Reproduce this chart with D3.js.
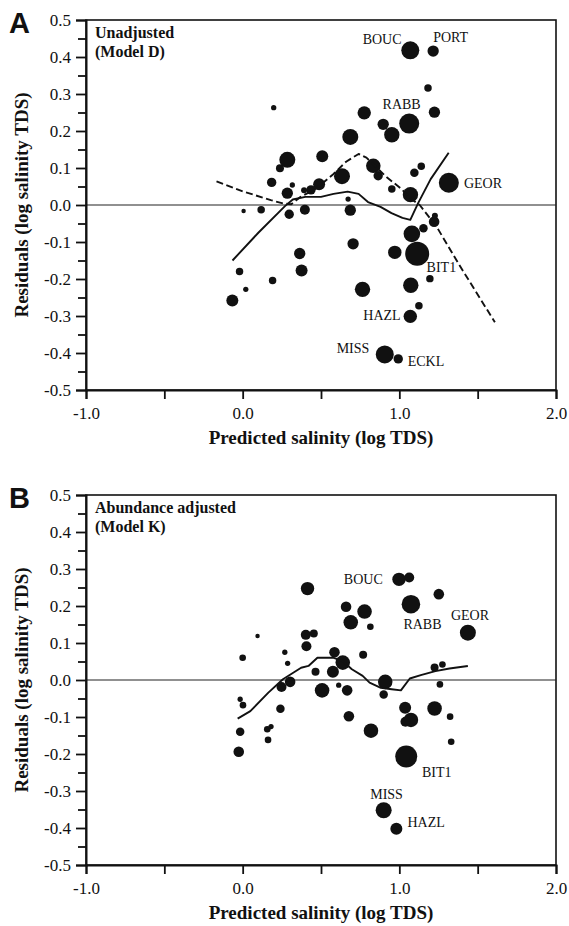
<!DOCTYPE html>
<html><head><meta charset="utf-8">
<script src="https://cdn.jsdelivr.net/npm/d3@7/dist/d3.min.js"></script>
<style>html,body{margin:0;padding:0;background:#fff;}svg{display:block;}</style>
</head><body>
<svg id="chart" width="569" height="926"></svg>
<script>
// ---------- data ----------
const xTicks = [-1, -0.5, 0, 0.5, 1, 1.5, 2];
const xTickLabels = {"-1": "-1.0", "0": "0.0", "1": "1.0", "2": "2.0"};
const yTicks = [0.5, 0.4, 0.3, 0.2, 0.1, 0, -0.1, -0.2, -0.3, -0.4, -0.5];
const yTickLabels = ["0.5", "0.4", "0.3", "0.2", "0.1", "0.0", "-0.1", "-0.2", "-0.3", "-0.4", "-0.5"];
const yMinorTicks = [0.45, 0.35, 0.25, 0.15, 0.05, -0.05, -0.15, -0.25, -0.35, -0.45];

// Panel A: unadjusted (Model D)
const predA = [1.07, 1.216, 1.183, 0.198, 0.776, 1.224, 1.063, 0.897, 0.952, 0.687,
  0.285, 0.508, 0.238, 0.834, 0.865, 0.634, 1.140, 1.096, 1.316, 0.185,
  0.317, 0.488, 0.436, 0.392, 0.285, 0.952, 1.071, 0.673, 0.006, 0.118,
  0.297, 0.397, 0.687, 0.705, 0.364, 0.376, -0.020, 0.191, 0.020, -0.066,
  0.765, 0.971, 1.114, 1.080, 1.154, 1.222, 1.227, 1.195, 1.073, 1.125,
  1.070, 0.907, 0.993];
const residA = [0.418, 0.416, 0.316, 0.263, 0.249, 0.251, 0.220, 0.218, 0.190, 0.184,
  0.122, 0.132, 0.099, 0.106, 0.079, 0.078, 0.105, 0.087, 0.060, 0.061,
  0.054, 0.056, 0.041, 0.040, 0.032, 0.043, 0.028, 0.016, -0.016, -0.013,
  -0.025, -0.013, -0.014, -0.105, -0.131, -0.177, -0.180, -0.204, -0.228, -0.258,
  -0.228, -0.128, -0.132, -0.078, -0.063, -0.045, -0.029, -0.199, -0.217, -0.272,
  -0.301, -0.404, -0.416];
const weightA = [81, 32, 14, 7, 45, 32, 100, 32, 59, 64,
  64, 36, 16, 53, 22, 64, 14, 18, 100, 22,
  7, 36, 22, 9, 32, 14, 59, 7, 5, 14,
  22, 25, 32, 32, 32, 36, 14, 14, 7, 36,
  59, 45, 144, 69, 18, 28, 9, 14, 59, 14,
  45, 81, 22];
const smoothA_x = [-0.065, 0.10, 0.27, 0.32, 0.40, 0.50, 0.58, 0.67, 0.74, 0.80, 0.88, 0.95, 1.02, 1.07, 1.12, 1.20, 1.315];
const smoothA_y = [-0.150, -0.075, -0.003, 0.015, 0.022, 0.022, 0.030, 0.036, 0.030, 0.008, -0.005, -0.022, -0.035, -0.040, 0.005, 0.070, 0.141];
const dashA_x = [-0.167, 0.0, 0.18, 0.26, 0.31, 0.37, 0.47, 0.58, 0.66, 0.74, 0.79, 0.86, 0.92, 1.0, 1.09, 1.13, 1.24, 1.39, 1.61];
const dashA_y = [0.064, 0.037, 0.013, 0.004, 0.002, 0.022, 0.045, 0.084, 0.117, 0.138, 0.128, 0.099, 0.075, 0.048, 0.012, 0.0, -0.060, -0.167, -0.317];
const labelA_text = ["BOUC", "PORT", "RABB", "GEOR", "BIT1", "HAZL", "MISS", "ECKL"];
const labelA_x = [0.766, 1.216, 0.893, 1.412, 1.174, 0.770, 0.600, 1.053];
const labelA_y = [0.435, 0.441, 0.259, 0.047, -0.180, -0.311, -0.400, -0.435];

// Panel B: abundance adjusted (Model K)
const predB = [0.998, 1.063, 0.414, 1.252, 1.074, 0.660, 0.778, 0.690, 0.815, 1.4375,
  0.095, 0.403, 0.454, 0.407, 0.269, 0.586, 0.769, 0.0, 0.287, 0.639,
  0.576, 0.465, 1.225, 1.275, 0.303, 0.248, 0.507, 0.613, 0.667, 0.910,
  0.900, 1.259, -0.016, 0.002, 0.241, 0.678, 1.037, 1.225, 1.074, 1.039,
  1.324, 0.819, -0.016, 0.157, 0.181, 0.162, -0.025, 1.331, 1.044, 0.900,
  0.981];
const residB = [0.272, 0.277, 0.247, 0.232, 0.205, 0.198, 0.185, 0.156, 0.144, 0.128,
  0.119, 0.122, 0.126, 0.091, 0.075, 0.075, 0.068, 0.060, 0.045, 0.047,
  0.022, 0.022, 0.034, 0.042, -0.005, -0.019, -0.028, -0.014, -0.028, -0.005,
  -0.039, -0.012, -0.052, -0.068, -0.078, -0.098, -0.075, -0.077, -0.108, -0.113,
  -0.099, -0.137, -0.140, -0.133, -0.126, -0.162, -0.194, -0.167, -0.207, -0.352,
  -0.402];
const weightB = [45, 25, 45, 28, 86, 28, 53, 53, 11, 64,
  5, 25, 16, 25, 7, 28, 16, 11, 7, 53,
  36, 16, 16, 11, 28, 25, 53, 7, 28, 53,
  18, 11, 7, 11, 18, 28, 36, 53, 53, 25,
  11, 53, 18, 11, 7, 11, 28, 11, 121, 64,
  36];
const smoothB_x = [-0.032, 0.049, 0.164, 0.257, 0.373, 0.42, 0.477, 0.581, 0.639, 0.697, 0.766, 0.81, 0.882, 0.951, 1.01, 1.067, 1.137, 1.23, 1.32, 1.4375];
const smoothB_y = [-0.1045, -0.084, -0.034, 0.002, 0.033, 0.038, 0.060, 0.060, 0.051, 0.029, 0.011, -0.007, -0.021, -0.025, -0.028, 0.004, 0.013, 0.024, 0.031, 0.038];
const labelB_text = ["BOUC", "RABB", "GEOR", "BIT1", "MISS", "HAZL"];
const labelB_x = [0.646, 1.026, 1.329, 1.144, 0.814, 1.052];
const labelB_y = [0.259, 0.137, 0.162, -0.261, -0.322, -0.397];

// ---------- drawing ----------
const svg = d3.select("#chart");
const serif = "'Liberation Serif', 'Times New Roman', serif";
const sans = "'Liberation Sans', Arial, sans-serif";
const left = 86, right = 556;
const x = d3.scaleLinear().domain([-1, 2]).range([left, right]);
const r = d3.scaleSqrt().domain([0, 144]).range([0, 12]);

function panel(cfg) {
  const y = d3.scaleLinear().domain([-0.5, 0.5]).range([cfg.bottom, cfg.top]);
  const g = svg.append("g");

  // frame (top/right)
  g.append("rect").attr("x", left).attr("y", cfg.top)
    .attr("width", right - left).attr("height", cfg.bottom - cfg.top)
    .attr("fill", "none").attr("stroke", "#111").attr("stroke-width", 1.6);

  // zero line
  g.append("line").attr("x1", left).attr("x2", right)
    .attr("y1", y(0)).attr("y2", y(0))
    .attr("stroke", "#222").attr("stroke-width", 1.1);

  // y axis
  const ya = g.append("g").attr("transform", `translate(${left},0)`)
    .call(d3.axisLeft(y).tickValues(yTicks).tickSize(10).tickPadding(5)
      .tickFormat((d, i) => yTickLabels[i]));
  ya.selectAll("text").attr("font-family", serif).attr("font-size", 17).attr("fill", "#111");
  ya.selectAll("line").attr("stroke", "#111").attr("stroke-width", 1.8);
  ya.select(".domain").attr("stroke", "#111").attr("stroke-width", 2);
  const ym = g.append("g").attr("transform", `translate(${left},0)`)
    .call(d3.axisLeft(y).tickValues(yMinorTicks).tickSize(8).tickFormat(""));
  ym.selectAll("line").attr("stroke", "#111").attr("stroke-width", 1.8);
  ym.select(".domain").remove();

  // x axis
  const xa = g.append("g").attr("transform", `translate(0,${cfg.bottom})`)
    .call(d3.axisBottom(x).tickValues(xTicks).tickSize(9).tickPadding(8)
      .tickFormat(d => xTickLabels[String(d)] || ""));
  xa.selectAll("text").attr("font-family", serif).attr("font-size", 17).attr("fill", "#111");
  xa.selectAll("line").attr("stroke", "#111").attr("stroke-width", 1.8);
  xa.select(".domain").attr("stroke", "#111").attr("stroke-width", 2);

  // points
  const pts = cfg.px.map((v, i) => ({x: v, y: cfg.py[i], w: cfg.pw[i]}));
  g.append("g").selectAll("circle").data(pts).join("circle")
    .attr("cx", d => x(d.x)).attr("cy", d => y(d.y)).attr("r", d => r(d.w))
    .attr("fill", "#111");

  const line = d3.line().x(d => x(d[0])).y(d => y(d[1]));
  cfg.lines.forEach(L => {
    const data = L.xs.map((v, i) => [v, L.ys[i]]);
    g.append("path").datum(data).attr("d", line)
      .attr("fill", "none").attr("stroke", "#111").attr("stroke-width", 1.9)
      .attr("stroke-dasharray", L.dash || null).attr("stroke-linejoin", "round");
  });

  // point labels
  g.append("g").selectAll("text").data(cfg.lt).join("text")
    .attr("x", (d, i) => x(cfg.lx[i])).attr("y", (d, i) => y(cfg.ly[i]))
    .attr("font-family", serif).attr("font-size", 14).attr("fill", "#111")
    .text(d => d);

  // inset titles
  cfg.title.forEach((t, i) => {
    g.append("text").attr("x", left + 9).attr("y", cfg.top + 18 + i * 19)
      .attr("font-family", serif).attr("font-weight", "bold").attr("font-size", 16)
      .attr("fill", "#111").text(t);
  });

  // panel letter
  g.append("text").attr("x", 9).attr("y", cfg.top + 13)
    .attr("font-family", sans).attr("font-weight", "bold").attr("font-size", 29)
    .attr("fill", "#111").text(cfg.letter);

  // axis titles
  g.append("text").attr("transform", `translate(28,${(cfg.top + cfg.bottom) / 2}) rotate(-90)`)
    .attr("text-anchor", "middle").attr("font-family", serif).attr("font-weight", "bold")
    .attr("font-size", 19).attr("fill", "#111").text("Residuals (log salinity TDS)");
  g.append("text").attr("x", (left + right) / 2).attr("y", cfg.bottom + 54)
    .attr("text-anchor", "middle").attr("font-family", serif).attr("font-weight", "bold")
    .attr("font-size", 19).attr("fill", "#111").text("Predicted salinity (log TDS)");
}

panel({top: 20, bottom: 390, letter: "A", title: ["Unadjusted", "(Model D)"],
  px: predA, py: residA, pw: weightA,
  lines: [{xs: smoothA_x, ys: smoothA_y}, {xs: dashA_x, ys: dashA_y, dash: "7,3.5"}],
  lt: labelA_text, lx: labelA_x, ly: labelA_y});
panel({top: 495, bottom: 865, letter: "B", title: ["Abundance adjusted", "(Model K)"],
  px: predB, py: residB, pw: weightB,
  lines: [{xs: smoothB_x, ys: smoothB_y}],
  lt: labelB_text, lx: labelB_x, ly: labelB_y});
</script>
</body></html>
